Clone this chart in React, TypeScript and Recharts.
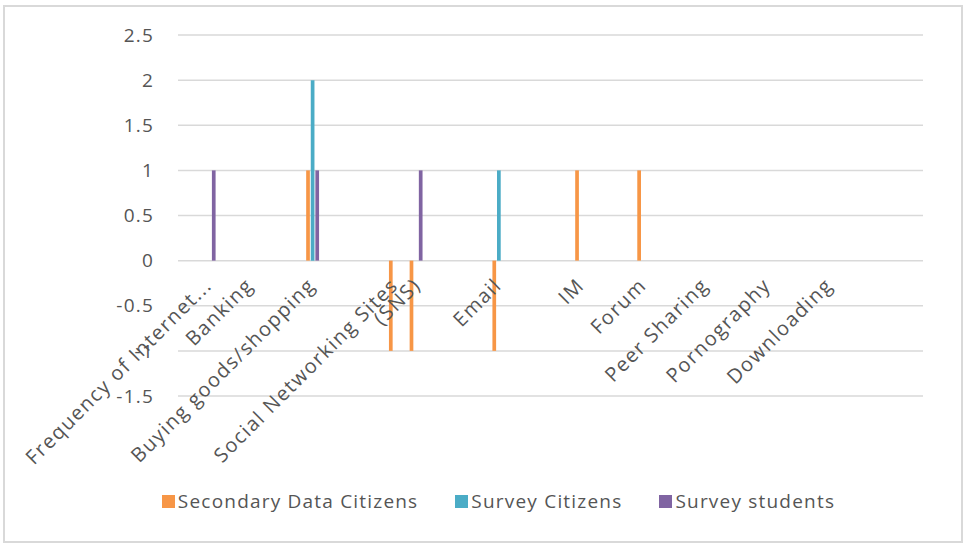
import React from 'react';
import { BarChart, Bar, XAxis, YAxis, CartesianGrid, Legend } from 'recharts';

// Category slots along the x axis; blank slots keep the spacing of the source sheet.
const CATEGORY_LABELS: string[] = [
  '', 'Frequency of Internet...', '', 'Banking', '', '', 'Buying goods/shopping', '', '', '',
  'Social Networking Sites\n(SNS)', '', '', '', '', 'Email', '', '', '', 'IM',
  '', '', 'Forum', '', '', 'Peer Sharing', '', '', 'Pornography', '',
  '', 'Downloading', '', '', '', '',
];

const SECONDARY_DATA_CITIZENS: (number | null)[] = [
  null, null, null, null, null, null, 1, null, null, null,
  -1, -1, null, null, null, -1, null, null, null, 1,
  null, null, 1, null, null, null, null, null, null, null,
  null, null, null, null, null, null,
];

const SURVEY_CITIZENS: (number | null)[] = [
  null, null, null, null, null, null, 2, null, null, null,
  null, null, null, null, null, 1, null, null, null, null,
  null, null, null, null, null, null, null, null, null, null,
  null, null, null, null, null, null,
];

const SURVEY_STUDENTS: (number | null)[] = [
  null, 1, null, null, null, null, 1, null, null, null,
  null, 1, null, null, null, null, null, null, null, null,
  null, null, null, null, null, null, null, null, null, null,
  null, null, null, null, null, null,
];

const Y_TICKS = [-1.5, -1, -0.5, 0, 0.5, 1, 1.5, 2, 2.5];
const Y_MIN = -1.5;
const Y_MAX = 2.5;

const SERIES = [
  { key: 'secondary', name: 'Secondary Data Citizens', color: '#F79646' },
  { key: 'citizens', name: 'Survey Citizens', color: '#4BACC6' },
  { key: 'students', name: 'Survey students', color: '#8064A2' },
];

const rows = CATEGORY_LABELS.map((label, i) => ({
  label,
  secondary: SECONDARY_DATA_CITIZENS[i],
  citizens: SURVEY_CITIZENS[i],
  students: SURVEY_STUDENTS[i],
}));

const WIDTH = 967;
const HEIGHT = 546;
const PLOT_TOP = 35;
const PLOT_BOTTOM = 396;
const LEGEND_H = 30;
const XAXIS_H = 1;
const FONT = "'Open Sans', 'Liberation Sans', sans-serif";
const TEXT = '#555555';

// y pixel of the value 0, where the category labels hang
const ZERO_Y = PLOT_TOP + ((PLOT_BOTTOM - PLOT_TOP) * (Y_MAX - 0)) / (Y_MAX - Y_MIN);

function CategoryTick(props: any) {
  const { x, payload } = props;
  const lines = String(payload?.value ?? '').split('\n');
  if (!lines[0]) return null;
  return (
    <g transform={`translate(${x + 4}, ${ZERO_Y + 26}) rotate(-45)`}>
      <text
        textAnchor="end"
        fill={TEXT}
        fontSize={20}
        letterSpacing={1.5}
        fontFamily={FONT}
      >
        {lines.map((ln, i) => (
          <tspan key={i} x={i * 16} dy={i ? 16 : 0}>
            {ln}
          </tspan>
        ))}
      </text>
    </g>
  );
}

function LegendContent() {
  return (
    <div
      style={{
        height: LEGEND_H,
        display: 'flex',
        justifyContent: 'center',
        alignItems: 'center',
        paddingLeft: 30,
        fontFamily: FONT,
        fontSize: 19,
        letterSpacing: 1.2,
        color: TEXT,
      }}
    >
      {SERIES.map((s, i) => (
        <div
          key={s.key}
          style={{ display: 'flex', alignItems: 'center', marginLeft: i ? 37 : 0 }}
        >
          <span
            style={{ width: 13, height: 13, background: s.color, marginRight: 3, display: 'inline-block' }}
          />
          <span>{s.name}</span>
        </div>
      ))}
    </div>
  );
}

export default function App() {
  return (
    <div style={{ position: 'relative', width: WIDTH, height: HEIGHT, background: '#fff' }}>
      <style>{'body{margin:0}'}</style>
      <div
        style={{
          position: 'absolute',
          left: 3,
          top: 5,
          width: 956,
          height: 534,
          border: '2px solid #d9d9d9',
        }}
      />
      <div style={{ position: 'absolute', left: 0, top: 0 }}>
        <BarChart
          width={WIDTH}
          height={HEIGHT}
          data={rows}
          margin={{ top: PLOT_TOP, right: 44, left: 0, bottom: HEIGHT - PLOT_BOTTOM - LEGEND_H - XAXIS_H }}
          barSize={3.7}
          barGap={0.9}
        >
          <CartesianGrid vertical={false} stroke="#d9d9d9" strokeWidth={1.5} />
          <XAxis
            dataKey="label"
            interval={0}
            tick={<CategoryTick />}
            tickLine={false}
            axisLine={false}
            height={XAXIS_H}
          />
          <YAxis
            domain={[Y_MIN, Y_MAX]}
            ticks={Y_TICKS}
            width={178}
            axisLine={false}
            tickLine={false}
            tickSize={0}
            tickMargin={24}
            tick={{ fill: TEXT, fontSize: 19, fontFamily: FONT, letterSpacing: 1.2 }}
          />
          <Legend
            verticalAlign="bottom"
            content={<LegendContent />}
            wrapperStyle={{ left: 0, width: WIDTH, bottom: 30, height: LEGEND_H }}
          />
          {SERIES.map((s) => (
            <Bar key={s.key} dataKey={s.key} name={s.name} fill={s.color} isAnimationActive={false} />
          ))}
        </BarChart>
      </div>
    </div>
  );
}
